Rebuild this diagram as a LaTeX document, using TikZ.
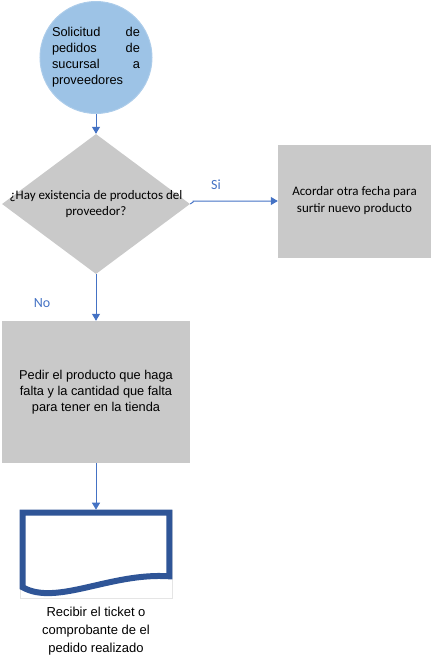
\documentclass[tikz,border=0pt]{standalone}
\usepackage{fontspec}
\setmainfont{Liberation Sans}
\newfontfamily\calfont{Carlito}
\usetikzlibrary{arrows.meta,shapes.geometric,calc}
\definecolor{cblue}{HTML}{9DC3E6}
\definecolor{cline}{HTML}{4472C4}
\definecolor{cdoc}{HTML}{2F5597}
\definecolor{cgray}{HTML}{C9C9C9}
\tikzset{>/.tip={Triangle[width=8pt,length=7pt]},
  arr/.style={->, draw=cline, line width=1pt},
  box/.style={rectangle, fill=cgray, inner sep=0pt},
  lbl/.style={text=cline, font=\calfont\fontsize{14}{16}\selectfont}}

\begin{document}
\begin{tikzpicture}[x=1pt, y=-1pt]
\useasboundingbox (0,0) rectangle (431,662);

\node[circle, fill=cblue, draw=cblue!85!white, line width=1pt, minimum size=112pt, inner sep=0pt,
  text width=88pt, font=\fontsize{12.8}{16}\selectfont] (sol) at (96,57.5)
  {Solicitud\hfill de\\ pedidos\hfill de\\ sucursal\hfill a\\ proveedores};
\node[diamond, fill=cgray, inner sep=0pt, minimum width=188pt, minimum height=140pt,
  label={[align=center, font=\calfont\fontsize{13}{16}\selectfont]center:{¿Hay existencia de productos del\\ proveedor?}}]
  (hay) at (96,204) {};
\node[box, minimum width=153pt, minimum height=113pt, align=center,
  font=\calfont\fontsize{13}{17}\selectfont] (acor) at (354.5,201)
  {Acordar otra fecha para\\ surtir nuevo producto};
\node[box, minimum width=188pt, minimum height=142pt, align=center,
  font=\fontsize{12.8}{16}\selectfont] (ped) at (96,392)
  {Pedir el producto que haga\\ falta y la cantidad que falta\\ para tener en la tienda};
\node[draw=black!10, line width=0.6pt, minimum width=152pt, minimum height=88pt, inner sep=0pt] (tic) at (96,554) {};
\node[align=center, font=\fontsize{13}{18}\selectfont] (rec) at (96,631)
  {Recibir el ticket o\\ comprobante de el\\ pedido realizado};
\node[lbl] (si) at (216,185) {Si};
\node[lbl] (no) at (42,303) {No};

\draw[cdoc, line width=6pt, line join=miter]
  ($(tic.south west)+(3,-11)$) -- ($(tic.north west)+(3,3)$) -- ($(tic.north east)+(-3,3)$)
  -- ($(tic.south east)+(-3,-22)$)
  .. controls ($(tic.south east)+(-62,-26)$) and ($(tic.south west)+(37,8)$) .. ($(tic.south west)+(3,-11)$) -- cycle;

\draw[arr] (sol) to (hay);
\draw[arr] (hay.east) -- ++(3,-2) |- (acor.west);
\draw[arr] (hay.south) to (ped.north);
\draw[arr] (ped.south) to (tic.north);
\end{tikzpicture}
\end{document}
